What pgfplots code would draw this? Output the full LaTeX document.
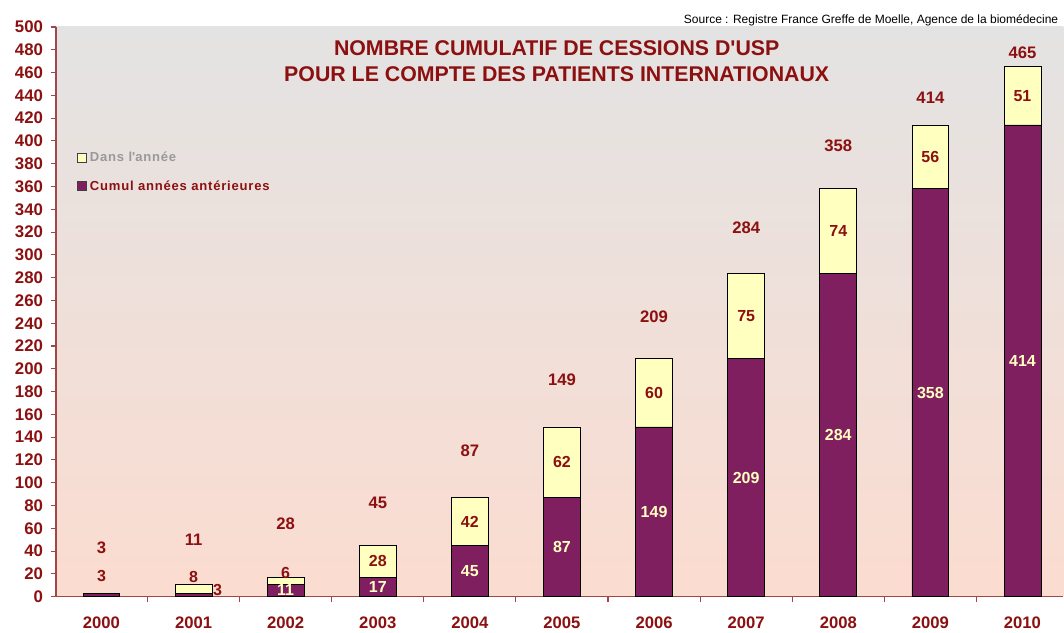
\documentclass[border=0pt]{standalone}
\usepackage{fontspec}
\setmainfont{Liberation Sans}
\newfontfamily\legfont[LetterSpace=6]{Liberation Sans}
\usepackage{pgfplots}
\usepackage{pgfplotstable}
\pgfplotsset{compat=1.18}

\definecolor{dred}{HTML}{8C1010}
\definecolor{cumul}{HTML}{7F1F5F}
\definecolor{annee}{HTML}{FFFFC0}
\definecolor{axred}{HTML}{A04848}
\definecolor{bgtop}{HTML}{E3E3E3}
\definecolor{bgbot}{HTML}{FBDCD0}

\tikzset{
  lbl/.style={font=\bfseries\fontsize{12}{12}\selectfont, text=dred},
  lblw/.style={font=\bfseries\fontsize{12}{12}\selectfont, text=annee},
  tot/.style={font=\bfseries\fontsize{12.5}{13}\selectfont, text=dred},
}

% cumul = cumul annees anterieures, annee = dans l'annee
\pgfplotstableread{
x cumul annee
0 3 0
1 3 8
2 11 6
3 17 28
4 45 42
5 87 62
6 149 60
7 209 75
8 284 74
9 358 56
10 414 51
}\cessions

\begin{document}
\begin{tikzpicture}
\begin{axis}[
  scale only axis, width=756pt, height=427.5pt,
  xmin=-0.494, xmax=10.445, ymin=0, ymax=500,
  ybar stacked, bar width=0.4,
  axis x line*=bottom, axis y line*=left,
  axis line style={axred, line width=0.8pt},
  xtick={0,...,10},
  xticklabels={2000,2001,2002,2003,2004,2005,2006,2007,2008,2009,2010},
  major x tick style={draw=none},
  minor xtick={0.5,1.5,...,9.5},
  ytick={0,20,...,500},
  tick align=outside, major tick length=3.75pt, minor tick length=3.75pt,
  tick style={axred, line width=0.8pt},
  axis background/.style={top color=bgtop, bottom color=bgbot},
  /pgf/number format/assume math mode=true,
  yticklabel style={font=\bfseries\fontsize{12.6}{13}\selectfont, text=dred, xshift=-2.5pt},
  xticklabel style={font=\bfseries\fontsize{12.5}{13}\selectfont, text=dred, anchor=center, yshift=-15.5pt},
  legend style={at={(0.017,0.79)}, anchor=north west, draw=none, fill=none,
    font=\legfont\bfseries\fontsize{9.8}{11}\selectfont, row sep=8.5pt, cells={anchor=west},
    /tikz/every even column/.append style={column sep=0pt}},
  legend image code/.code={\draw[#1,draw=black!75] (0pt,-3.4pt) rectangle (6.8pt,3.4pt);},
  reverse legend,
  clip=false,
  after end axis/.code={
    % totals above the bars
    \node[tot] at (axis cs:0,43) {3};
    \node[tot] at (axis cs:1,50) {11};
    \node[tot] at (axis cs:2,64) {28};
    \node[tot] at (axis cs:3,82) {45};
    \node[tot] at (axis cs:4,128) {87};
    \node[tot] at (axis cs:5,190) {149};
    \node[tot] at (axis cs:6,246) {209};
    \node[tot] at (axis cs:7,324) {284};
    \node[tot] at (axis cs:8,396) {358};
    \node[tot] at (axis cs:9,438) {414};
    \node[tot] at (axis cs:10,477) {465};
    % dans l'annee
    \node[lbl] at (axis cs:0,18) {3};
    \node[lbl] at (axis cs:1,17.5) {8};
    \node[lbl] at (axis cs:2,21) {6};
    \node[lbl] at (axis cs:3,31) {28};
    \node[lbl] at (axis cs:4,66) {42};
    \node[lbl] at (axis cs:5,118) {62};
    \node[lbl] at (axis cs:6,179) {60};
    \node[lbl] at (axis cs:7,246.5) {75};
    \node[lbl] at (axis cs:8,321) {74};
    \node[lbl] at (axis cs:9,386) {56};
    \node[lbl] at (axis cs:10,439.5) {51};
    % cumul annees anterieures
    \node[lbl] at (axis cs:1.26,6) {3};
    \node[lblw] at (axis cs:2,6) {11};
    \node[lblw] at (axis cs:3,8.5) {17};
    \node[lblw] at (axis cs:4,22.5) {45};
    \node[lblw] at (axis cs:5,43.5) {87};
    \node[lblw] at (axis cs:6,74.5) {149};
    \node[lblw] at (axis cs:7,104.5) {209};
    \node[lblw] at (axis cs:8,142) {284};
    \node[lblw] at (axis cs:9,179) {358};
    \node[lblw] at (axis cs:10,207) {414};
  },
]
\addplot[fill=cumul, draw=black, line width=0.6pt] table[x=x, y=cumul] {\cessions};
\addlegendentry{\textcolor{dred}{Cumul années antérieures}}
\addplot[fill=annee, draw=black, line width=0.6pt] table[x=x, y=annee] {\cessions};
\addlegendentry{\textcolor{gray!80}{Dans l\textquotesingle année}}

\node[font=\bfseries\fontsize{16}{19.5}\selectfont, text=dred, align=center]
  at (rel axis cs:0.497,0.9404) {NOMBRE CUMULATIF DE CESSIONS D\textquotesingle USP\\POUR LE COMPTE DES PATIENTS INTERNATIONAUX};
\node[font=\fontsize{9}{10}\selectfont, anchor=east, inner sep=0pt]
  at (rel axis cs:0.995,1) [yshift=5.25pt] {Source : Registre France Greffe de Moelle, Agence de la biomédecine};
\end{axis}
\path[use as bounding box] (-42pt,-24.75pt) rectangle (756pt,447.75pt);
\end{tikzpicture}
\end{document}
